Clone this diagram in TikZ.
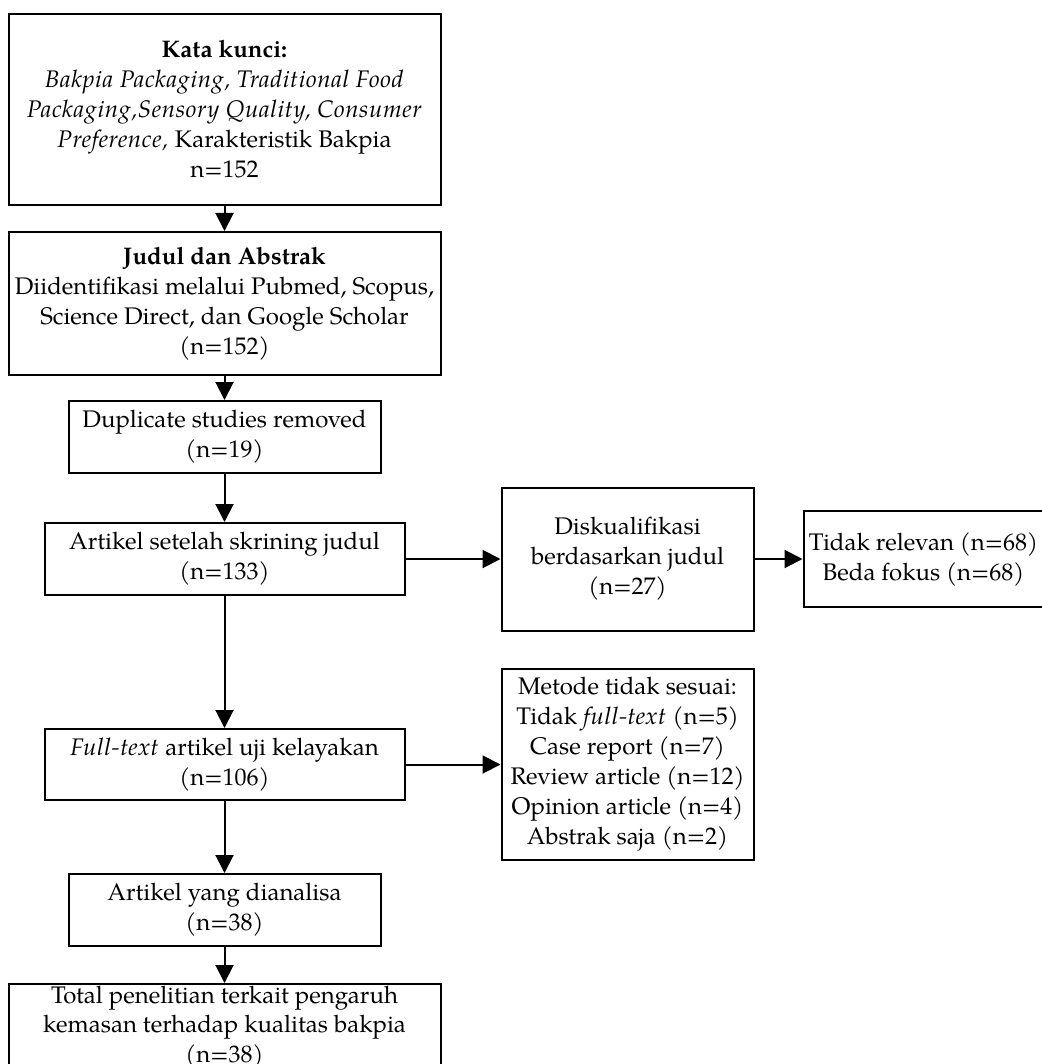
\documentclass[tikz,border=0pt]{standalone}
\usepackage{fontspec}
\setmainfont{TeX Gyre Pagella}[ItalicFeatures={LetterSpace=2.5}]
\usepackage{tikz}
\usetikzlibrary{positioning,arrows.meta}
\tikzset{
    flow-box/.style = {draw=black, fill=white, line width=2pt, rectangle, align=center, inner sep=2pt, font=\fontsize{24}{30}\selectfont},
    flow-arrow/.style = {draw=black, line width=2pt, -{Triangle[length=18pt,width=18pt]}},
}

\begin{document}
\begin{tikzpicture}
\useasboundingbox (0,0) rectangle (1041pt,-1064pt);
% main column
\node[flow-box, minimum width=432pt, minimum height=191pt] (kunci) at (224.5pt,-109.5pt) {\textbf{Kata kunci:}\\
    \textit{Bakpia Packaging, Traditional Food}\\
    \textit{Packaging,Sensory Quality, Consumer}\\
    \textit{Preference,} Karakteristik Bakpia\\
    n=152};
\node[flow-box, minimum width=432pt, minimum height=143pt, below=25pt of kunci] (judul) {\textbf{Judul dan Abstrak}\\
    Diidentifikasi melalui Pubmed, Scopus,\\
    Science Direct, dan Google Scholar\\
    (n=152)};
\node[flow-box, minimum width=312pt, minimum height=72pt, below=24pt of judul] (duplikat) {Duplicate studies removed\\ (n=19)};
\node[flow-box, minimum width=360pt, minimum height=72pt, below=48pt of duplikat] (skrining) {Artikel setelah skrining judul\\ (n=133)};
\node[flow-box, minimum width=360pt, minimum height=71pt, below=132pt of skrining] (fulltext) {\textit{Full-text} artikel uji kelayakan\\ (n=106)};
\node[flow-box, minimum width=312pt, minimum height=72pt, below=72pt of fulltext] (analisa) {Artikel yang dianalisa\\ (n=38)};
\node[flow-box, minimum width=432pt, text depth=20pt, font=\fontsize{24}{29.5}\selectfont, below=36pt of analisa] (total) {Total penelitian terkait pengaruh\\
    kemasan terhadap kualitas bakpia\\
    (n=38)};
% side boxes
\node[flow-box, minimum width=252pt, minimum height=143pt, right=95pt of skrining] (diskual) {Diskualifikasi\\ berdasarkan judul\\ (n=27)};
\node[flow-box, minimum width=240pt, minimum height=96pt, right=48pt of diskual] (relevan) {Tidak relevan (n=68)\\ Beda fokus (n=68)};
\node[flow-box, minimum width=252pt, minimum height=191pt, right=95pt of fulltext] (metode) {Metode tidak sesuai:\\
    Tidak \textit{full-text} (n=5)\\
    Case report (n=7)\\
    Review article (n=12)\\
    Opinion article (n=4)\\
    Abstrak saja (n=2)};
% arrows
\draw[flow-arrow] (kunci) -- (judul);
\draw[flow-arrow] (judul) -- (duplikat);
\draw[flow-arrow] (duplikat) -- (skrining);
\draw[flow-arrow] (skrining) -- (fulltext);
\draw[flow-arrow] (fulltext) -- (analisa);
\draw[flow-arrow] (analisa) -- (total);
\draw[flow-arrow] (skrining) -- (diskual);
\draw[flow-arrow] (diskual) -- (relevan);
\draw[flow-arrow] (fulltext) -- (metode);
\end{tikzpicture}
\end{document}
